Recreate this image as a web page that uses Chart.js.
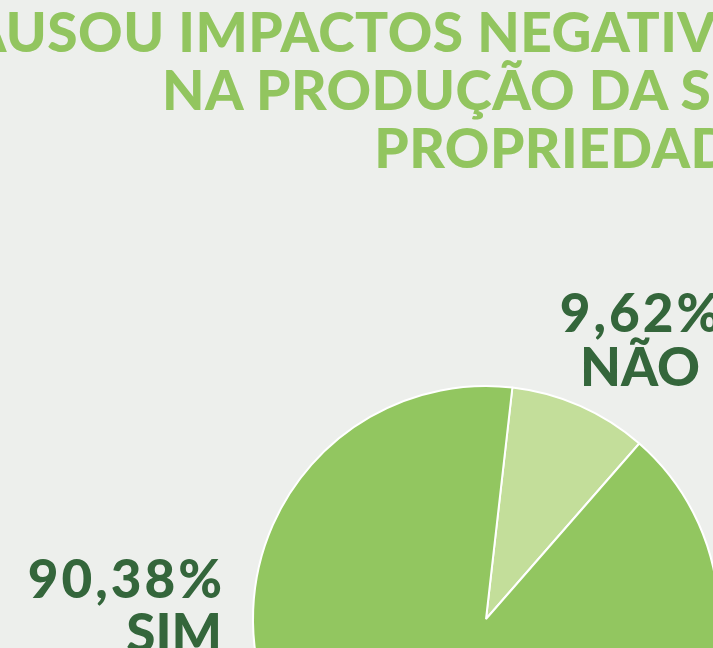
<!DOCTYPE html>
<html>
<head>
<meta charset="utf-8">
<script src="https://cdn.jsdelivr.net/npm/chart.js@4"></script>
<style>
  html, body { margin: 0; padding: 0; }
  body {
    width: 713px; height: 648px; overflow: hidden; position: relative;
    background: #edefec; font-family: Lato, "Open Sans", sans-serif;
  }
  #wrap { position: absolute; left: 0; top: 0; width: 760px; height: 900px; }
  .title {
    position: absolute; right: -78px; top: 2px; text-align: right;
    color: #92c55f; font-weight: 900; font-size: 55px; line-height: 58px;
    letter-spacing: 0.5px; white-space: nowrap;
  }
  .lbl {
    position: absolute; color: #34663b; font-weight: 900; font-size: 53px;
    line-height: 54px; white-space: nowrap;
  }
  .pct { letter-spacing: 3px; margin-right: -3px; }
  #lblNao { left: 540px; top: 285px; width: 200px; text-align: center; }
  #lblSim { right: 491px; top: 551px; text-align: right; }
</style>
</head>
<body>
<div class="title" id="title"></div>
<div id="wrap"><canvas id="pie" width="760" height="900"></canvas></div>
<div class="lbl" id="lblNao"></div>
<div class="lbl" id="lblSim"></div>
<script>
const titleLines = ['CAUSOU IMPACTOS NEGATIVOS', 'NA PRODUÇÃO DA SUA', 'PROPRIEDADE?'];
const labels = ['NÃO', 'SIM'];
const values = [9.62, 90.38];
const colors = ['#c3de9a', '#92c660'];

document.getElementById('title').innerHTML = titleLines.join('<br>');
const fmt = v => '<span class="pct">' + v.toFixed(2).replace('.', ',') + '%</span>';
document.getElementById('lblNao').innerHTML = fmt(values[0]) + '<br>' + labels[0];
document.getElementById('lblSim').innerHTML = fmt(values[1]) + '<br>' + labels[1];

const ctx = document.getElementById('pie').getContext('2d');
new Chart(ctx, {
  type: 'pie',
  data: {
    labels: labels,
    datasets: [{
      data: values,
      backgroundColor: colors,
      borderColor: '#ffffff',
      borderWidth: 2,
    }],
  },
  options: {
    responsive: false,
    animation: false,
    rotation: 6.5,
    layout: { padding: { left: 252, right: 40, top: 385, bottom: 47 } },
    plugins: { legend: { display: false }, tooltip: { enabled: false } },
  },
});
</script>
</body>
</html>
